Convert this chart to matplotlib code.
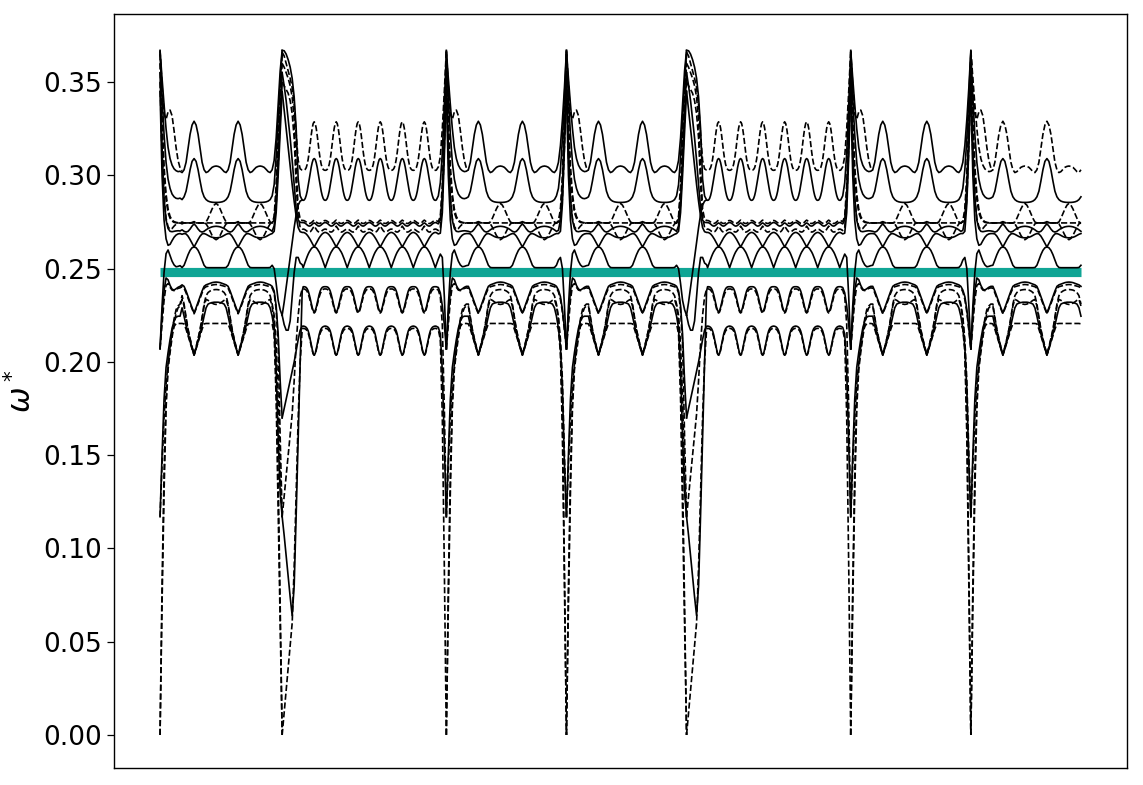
import numpy as np
import matplotlib
matplotlib.use('Agg')
import matplotlib.pyplot as plt

# ---------------------------------------------------------------
# Path layout (x = position along the path, arbitrary index units)
# ---------------------------------------------------------------
seg_starts = [0, 122, 286, 406, 526, 690, 810]
seg_ends = [122, 286, 406, 526, 690, 810, 920]
seg_types = ['1', '2', '1', '1', '2', '1', '1']
seg_end_kind = ['wide', 'narrow', 'narrow', 'wide', 'narrow', 'narrow', 'open']
first_peak = [34, 32, 32, 32, 32, 32, 32]
teal_level = 0.248
SCALE = 1e-4  # all band values below are omega* x 10^4

# ---------------------------------------------------------------
# Segment type 1: one period (44 units) sampled every 2 units
# ---------------------------------------------------------------
per1 = {
    'T1': [3290, 3270, 3220, 3145, 3070, 3030, 3015, 3020, 3032, 3043, 3048, 3050, 3048, 3043, 3032, 3020, 3015, 3030, 3070, 3145, 3220, 3270],
    'T2': [3090, 3075, 3030, 2970, 2915, 2885, 2870, 2862, 2858, 2856, 2855, 2855, 2855, 2856, 2858, 2862, 2870, 2885, 2915, 2970, 3030, 3075],
    'F1': [2752, 2747, 2745, 2745, 2745, 2745, 2745, 2745, 2745, 2745, 2745, 2745, 2745, 2745, 2745, 2745, 2745, 2745, 2745, 2745, 2745, 2747],
    'Du': [2748, 2746, 2745, 2745, 2745, 2745, 2750, 2770, 2795, 2820, 2840, 2850, 2840, 2820, 2795, 2770, 2750, 2745, 2745, 2745, 2745, 2746],
    'Dd': [2745, 2745, 2745, 2745, 2745, 2745, 2740, 2722, 2700, 2678, 2662, 2655, 2662, 2678, 2700, 2722, 2740, 2745, 2745, 2745, 2745, 2745],
    'Z1': [2740, 2728, 2712, 2700, 2696, 2700, 2708, 2715, 2720, 2724, 2726, 2727, 2726, 2724, 2720, 2715, 2708, 2700, 2696, 2700, 2712, 2728],
    'Q1': [2616, 2636, 2656, 2674, 2686, 2688, 2684, 2678, 2672, 2668, 2666, 2665, 2666, 2668, 2672, 2678, 2684, 2688, 2686, 2674, 2656, 2636],
    'P1': [2616, 2612, 2598, 2575, 2546, 2518, 2506, 2505, 2505, 2505, 2505, 2505, 2505, 2505, 2505, 2505, 2506, 2518, 2546, 2575, 2598, 2612],
    'L1': [2262, 2290, 2320, 2350, 2380, 2405, 2413, 2417, 2421, 2425, 2427, 2428, 2427, 2425, 2421, 2417, 2413, 2405, 2380, 2350, 2320, 2290],
    'L1d': [2258, 2284, 2312, 2341, 2370, 2395, 2403, 2406, 2409, 2412, 2414, 2415, 2414, 2412, 2409, 2406, 2403, 2395, 2370, 2341, 2312, 2284],
    'Lu': [2040, 2080, 2125, 2175, 2240, 2310, 2355, 2372, 2380, 2385, 2387, 2388, 2387, 2385, 2380, 2372, 2355, 2310, 2240, 2175, 2125, 2080],
    'Ll': [2040, 2078, 2122, 2170, 2230, 2300, 2335, 2330, 2322, 2315, 2310, 2308, 2310, 2315, 2322, 2330, 2335, 2300, 2230, 2170, 2122, 2078],
    'Lv': [2036, 2072, 2110, 2150, 2195, 2245, 2290, 2310, 2315, 2318, 2320, 2320, 2320, 2318, 2315, 2310, 2290, 2245, 2195, 2150, 2110, 2072],
    'F2': [2036, 2070, 2105, 2140, 2175, 2204, 2206, 2206, 2206, 2206, 2206, 2206, 2206, 2206, 2206, 2206, 2206, 2204, 2175, 2140, 2105, 2070],
}
style1 = {'T1': '-', 'Tb': '--', 'T2': '-', 'F1': '--', 'Du': '--', 'Dd': '--', 'Z1': '-',
          'Q1': '-', 'P1': '-', 'L1': '-', 'L1d': '--', 'Lu': '--', 'Ll': '--', 'Lv': '-', 'F2': '--'}

# start of a type-1 segment, offsets 0,2,...,20 after the spike
start1 = {
    'T1': [3670, 3520, 3380, 3250, 3150, 3090, 3055, 3035, 3025, 3020, 3022],
    'Tb': [3670, 3480, 3330, 3300, 3340, 3350, 3320, 3240, 3150, 3080, 3040, 3025],
    'T2': [3660, 3420, 3220, 3070, 2980, 2930, 2900, 2885, 2877, 2875, 2878],
    'F1': [3600, 3250, 3000, 2870, 2800, 2770, 2755, 2748, 2746, 2745, 2745],
    'Du': [3650, 3300, 3050, 2900, 2820, 2780, 2760, 2752, 2748, 2746, 2745],
    'Dd': [3500, 3100, 2880, 2770, 2725, 2710, 2715, 2728, 2738, 2743, 2745],
    'Z1': [3550, 3150, 2880, 2760, 2715, 2700, 2698, 2700, 2702, 2703, 2702],
    'Q1': [3450, 3000, 2760, 2660, 2625, 2630, 2650, 2668, 2680, 2686, 2688],
    'P1': [2070, 2300, 2480, 2580, 2600, 2570, 2540, 2520, 2510, 2512, 2516],
    'L1': [2070, 2250, 2380, 2450, 2440, 2410, 2390, 2385, 2392, 2400, 2405],
    'L1d': [2070, 2200, 2330, 2410, 2420, 2400, 2385, 2382, 2388, 2394, 2397],
    'Lu': [1170, 1450, 1700, 1880, 1990, 2080, 2160, 2230, 2280, 2300, 2310],
    'Lv': [1170, 1500, 1800, 1970, 2050, 2120, 2180, 2220, 2240, 2245, 2245],
    'Ll': [0, 700, 1300, 1750, 1960, 2050, 2130, 2200, 2260, 2290, 2300],
    'F2': [0, 800, 1400, 1800, 1980, 2080, 2150, 2190, 2205, 2206, 2206],
}
# end of a type-1 segment at a narrow spike, offsets -10,-8,...,0
end1_narrow = {
    'T1': [3030, 3070, 3160, 3300, 3470, 3670],
    'T2': [2890, 2930, 3030, 3200, 3420, 3660],
    'F1': [2745, 2750, 2800, 2950, 3250, 3600],
    'Du': [2745, 2755, 2820, 3000, 3300, 3650],
    'Dd': [2745, 2740, 2760, 2880, 3150, 3500],
    'Z1': [2700, 2705, 2760, 2950, 3250, 3550],
    'Q1': [2688, 2688, 2700, 2850, 3150, 3450],
    'P1': [2518, 2546, 2560, 2500, 2300, 2070],
    'L1': [2405, 2385, 2350, 2280, 2180, 2070],
    'L1d': [2397, 2375, 2335, 2265, 2170, 2070],
    'Lu': [2310, 2240, 2120, 1900, 1500, 1170],
    'Lv': [2245, 2180, 2080, 1850, 1450, 1170],
    'Ll': [2300, 2230, 2080, 1700, 900, 0],
    'F2': [2204, 2175, 2050, 1600, 800, 0],
}
# end of a type-1 segment at a wide spike, offsets -10,-8,...,0
end1_wide = {
    'T1': [3030, 3080, 3200, 3380, 3560, 3670],
    'T2': [2890, 2950, 3100, 3300, 3500, 3660],
    'F1': [2745, 2770, 2900, 3150, 3400, 3600],
    'Du': [2745, 2780, 2950, 3200, 3450, 3650],
    'Dd': [2745, 2760, 2850, 3050, 3300, 3500],
    'Z1': [2700, 2730, 2850, 3080, 3320, 3550],
    'Q1': [2688, 2700, 2800, 3000, 3230, 3450],
    'P1': [2518, 2500, 2420, 2330, 2280, 2250],
    'L1': [2405, 2380, 2300, 2150, 1900, 1700],
    'L1d': [2397, 2370, 2280, 2100, 1600, 1170],
    'Lu': [2310, 2250, 2100, 1800, 1400, 1170],
    'Lv': [2245, 2180, 1960, 1600, 1300, 1170],
    'Ll': [2300, 2200, 1900, 1400, 700, 0],
    'F2': [2204, 2150, 1800, 1200, 600, 0],
}

# ---------------------------------------------------------------
# Segment type 2: one period (22 units) sampled every unit
# ---------------------------------------------------------------
per2 = {
    'D1': [3287, 3278, 3253, 3215, 3170, 3125, 3087, 3059, 3041, 3032, 3028, 3027, 3028, 3032, 3041, 3059, 3087, 3125, 3170, 3215, 3253, 3278],
    'S2': [3090, 3085, 3068, 3043, 3012, 2978, 2945, 2915, 2892, 2876, 2868, 2866, 2868, 2876, 2892, 2915, 2945, 2978, 3012, 3043, 3068, 3085],
    'M1': [2760, 2756, 2750, 2746, 2743, 2742, 2743, 2746, 2750, 2754, 2757, 2758, 2757, 2754, 2750, 2746, 2743, 2742, 2743, 2746, 2750, 2756],
    'M2': [2745, 2742, 2737, 2732, 2729, 2728, 2730, 2734, 2739, 2743, 2746, 2747, 2746, 2743, 2739, 2734, 2730, 2728, 2729, 2732, 2737, 2742],
    'M3': [2728, 2720, 2711, 2703, 2698, 2696, 2697, 2700, 2704, 2708, 2711, 2712, 2711, 2708, 2704, 2700, 2697, 2696, 2698, 2703, 2711, 2720],
    'Q2': [2616, 2626, 2636, 2646, 2656, 2665, 2673, 2680, 2686, 2690, 2693, 2694, 2693, 2690, 2686, 2680, 2673, 2665, 2656, 2646, 2636, 2626],
    'P2': [2616, 2615, 2612, 2606, 2598, 2589, 2578, 2565, 2551, 2536, 2521, 2505, 2521, 2536, 2551, 2565, 2578, 2589, 2598, 2606, 2612, 2615],
    'L1': [2268, 2275, 2292, 2315, 2340, 2362, 2380, 2392, 2399, 2402, 2403, 2403, 2403, 2402, 2399, 2392, 2380, 2362, 2340, 2315, 2292, 2275],
    'L1d': [2262, 2268, 2284, 2305, 2328, 2348, 2365, 2377, 2385, 2389, 2391, 2391, 2391, 2389, 2385, 2377, 2365, 2348, 2328, 2305, 2284, 2268],
    'L2': [2036, 2045, 2068, 2095, 2122, 2147, 2166, 2178, 2185, 2189, 2191, 2192, 2191, 2189, 2185, 2178, 2166, 2147, 2122, 2095, 2068, 2045],
    'L2d': [2036, 2043, 2062, 2088, 2113, 2136, 2154, 2166, 2173, 2177, 2179, 2180, 2179, 2177, 2173, 2166, 2154, 2136, 2113, 2088, 2062, 2043],
}
style2 = {'D1': '--', 'S2': '-', 'M1': '--', 'M2': '-', 'M3': '--', 'Q2': '-', 'P2': '-', 'Xd': '-',
          'L1': '-', 'L1d': '--', 'L2': '-', 'L2d': '--'}

# start of a type-2 segment after a wide spike, offsets 0,2,...,20
start2 = {
    'S2': [3670, 3668, 3650, 3620, 3580, 3520, 3420, 3250, 2980, 2890, 2868],
    'D1': [3660, 3640, 3600, 3560, 3520, 3470, 3380, 3220, 3080, 3035, 3028],
    'M1': [3600, 3580, 3550, 3520, 3480, 3420, 3300, 3050, 2820, 2765, 2758],
    'M2': [3550, 3480, 3400, 3300, 3200, 3080, 2950, 2820, 2760, 2748, 2747],
    'M3': [3500, 3480, 3460, 3440, 3400, 3330, 3200, 2950, 2780, 2720, 2712],
    'Q2': [3450, 3350, 3250, 3150, 3050, 2950, 2860, 2780, 2720, 2698, 2694],
    'P2': [2250, 2200, 2170, 2170, 2220, 2350, 2480, 2560, 2560, 2530, 2521],
    'Xd': [2250, 2320, 2400, 2480, 2560, 2640, 2720, 2790, 2840, 2862, 2868],
    'L1': [1170, 1070, 960, 850, 740, 640, 800, 1180, 1600, 2000, 2380],
    'L1d': [1170, 1280, 1390, 1500, 1610, 1720, 1900, 2100, 2250, 2350, 2390],
    'L2': [1700, 1750, 1800, 1850, 1900, 1950, 2000, 2060, 2120, 2170, 2191],
    'L2d': [0, 120, 240, 360, 480, 600, 900, 1300, 1700, 2000, 2175],
}
# end of a type-2 segment at a narrow spike, offsets -10,-8,...,0
end2 = {
    'D1': [3028, 3045, 3100, 3250, 3450, 3670],
    'S2': [2868, 2890, 2960, 3120, 3380, 3660],
    'M1': [2757, 2752, 2780, 2950, 3250, 3600],
    'M2': [2746, 2740, 2760, 2900, 3200, 3550],
    'M3': [2711, 2704, 2720, 2850, 3150, 3500],
    'Q2': [2693, 2686, 2690, 2800, 3100, 3450],
    'P2': [2521, 2551, 2578, 2560, 2350, 2070],
    'L1': [2403, 2399, 2370, 2300, 2200, 2070],
    'L1d': [2391, 2385, 2350, 2200, 1750, 1170],
    'L2': [2191, 2185, 2150, 1950, 1550, 1170],
    'L2d': [2179, 2173, 2120, 1700, 900, 0],
}

# per-segment line-style overrides
style_override = {6: {'T1': '--'}}

y_ticks = [0.00, 0.05, 0.10, 0.15, 0.20, 0.25, 0.30, 0.35]
y_ticklabels = ['0.00', '0.05', '0.10', '0.15', '0.20', '0.25', '0.30', '0.35']


def band_points(i, name):
    s, e = seg_starts[i], seg_ends[i]
    if seg_types[i] == '1':
        per, step, period, st = per1, 2, 44, start1
        en = {'narrow': end1_narrow, 'wide': end1_wide}.get(seg_end_kind[i])
    else:
        per, step, period, st = per2, 1, 22, start2
        en = end2
    xs, ys = [], []
    for k, v in enumerate(st[name]):
        xs.append(s + 2 * k)
        ys.append(v)
    if name not in per:
        return xs, ys
    off = xs[-1] - s + step
    last = (e - s) if en is None else (e - s - 10 - step)
    tmpl = per[name]
    while off <= last:
        ph = (off - first_peak[i]) % period
        xs.append(s + off)
        ys.append(tmpl[ph // step])
        off += step
    if en is not None:
        for k, v in enumerate(en[name]):
            xs.append(e - 10 + 2 * k)
            ys.append(v)
    return xs, ys


fig = plt.figure(figsize=(11.43, 7.85), dpi=100)
ax = fig.add_axes([114 / 1143, 1 - 768 / 785, (1127 - 114) / 1143, (768 - 14) / 785])

ax.plot([seg_starts[0], seg_ends[-1]], [teal_level, teal_level], color='#10a595', lw=6.6,
        solid_capstyle='butt', zorder=1)

for i in range(len(seg_starts)):
    if seg_types[i] == '1':
        names, styles = list(start1.keys()), style1
    else:
        names, styles = list(start2.keys()), style2
    for name in names:
        xs, ys = band_points(i, name)
        ls = style_override.get(i, {}).get(name, styles[name])
        ax.plot(xs, np.array(ys) * SCALE, color='black', ls=ls, lw=1.2, zorder=2)

ax.set_xlim(-46, 966)
ax.set_ylim(-0.0177, 0.3865)
ax.set_xticks([])
ax.set_yticks(y_ticks)
ax.set_yticklabels(y_ticklabels, fontsize=19)
ax.tick_params(axis='y', length=5, width=0.9)
ax.set_ylabel(r'$\omega^*$', fontsize=22)
for sp in ax.spines.values():
    sp.set_linewidth(1.0)

fig.savefig('out.png', dpi=100)
